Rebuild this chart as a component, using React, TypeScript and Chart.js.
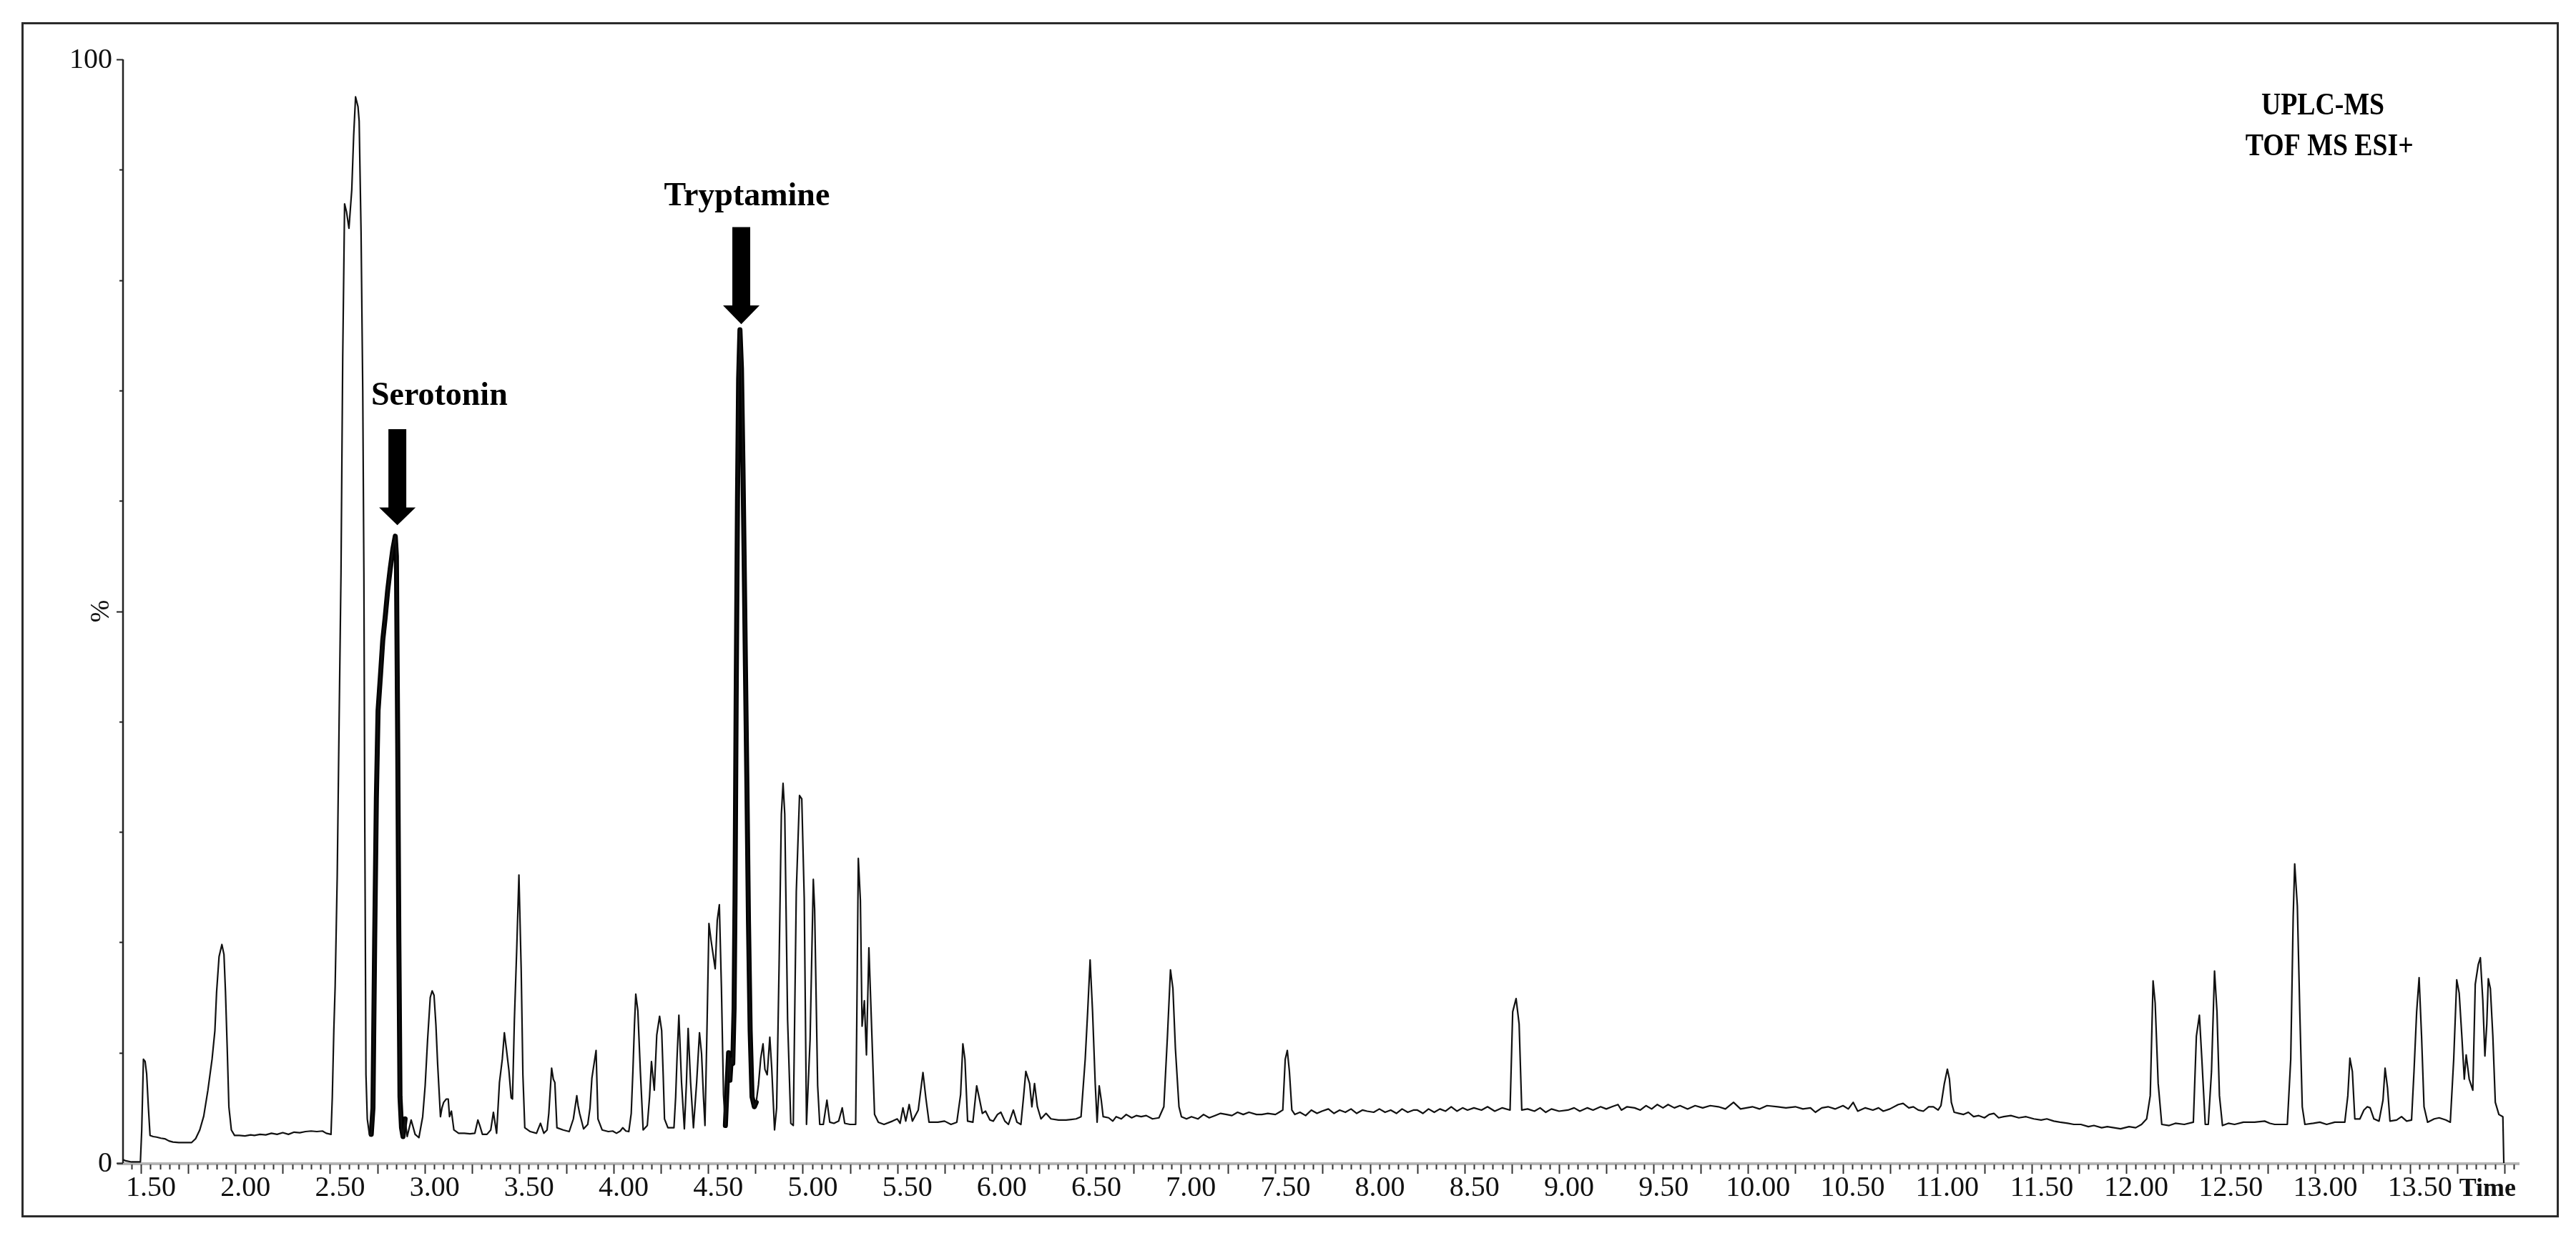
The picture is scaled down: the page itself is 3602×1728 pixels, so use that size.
import React, { useEffect, useRef } from "react";
import { Chart, registerables } from "chart.js";

Chart.register(...registerables);

type Pt = [number, number];

// ---- chromatogram (retention time [min], relative intensity [%]) ----
const solventRegion: Pt[] = [
  [1.405, 0.3], [1.42, 0.2], [1.45, 0.1], [1.497, 0.1], [1.504, 3.0], [1.513, 9.4], [1.522, 9.2],
  [1.53, 8.1], [1.539, 5.1], [1.548, 2.5], [1.565, 2.4], [1.583, 2.35], [1.605, 2.25], [1.626, 2.2],
  [1.648, 2.0], [1.669, 1.9], [1.7, 1.85], [1.735, 1.85], [1.767, 1.85], [1.789, 2.2], [1.811, 3.0],
  [1.832, 4.25], [1.854, 6.6], [1.876, 9.4], [1.891, 12.0], [1.9, 15.5], [1.913, 18.7], [1.928, 19.8],
  [1.939, 18.9], [1.947, 15.5], [1.956, 10.5], [1.965, 5.1], [1.978, 3.0], [1.995, 2.5], [2.02, 2.5],
  [2.05, 2.45], [2.08, 2.55], [2.1, 2.5], [2.13, 2.6], [2.16, 2.55], [2.19, 2.7], [2.22, 2.6],
  [2.25, 2.75], [2.28, 2.6], [2.31, 2.8], [2.34, 2.75], [2.37, 2.85], [2.4, 2.9], [2.43, 2.85],
  [2.46, 2.9], [2.48, 2.7], [2.505, 2.6],
];

const majorPeak: Pt[] = [
  [2.512, 6], [2.52, 12], [2.527, 16], [2.538, 26], [2.548, 40], [2.558, 53.5], [2.567, 72.9],
  [2.577, 86.9], [2.587, 86.2], [2.6, 84.7], [2.615, 88.2], [2.625, 93.1], [2.635, 96.6], [2.648, 95.7],
  [2.654, 94.4], [2.664, 84.4], [2.673, 70.0], [2.679, 53.5], [2.684, 30], [2.69, 8], [2.697, 4],
  [2.708, 2.6],
];

const serotoninPeak: Pt[] = [
  [2.718, 2.6], [2.727, 5], [2.736, 20], [2.745, 33], [2.754, 41], [2.766, 44], [2.779, 47.4],
  [2.792, 49.5], [2.805, 51.9], [2.818, 53.8], [2.832, 55.6], [2.845, 56.8], [2.851, 55], [2.858, 38],
  [2.864, 20], [2.87, 6], [2.878, 3.2], [2.886, 2.4], [2.897, 4.0], [2.908, 2.4],
];

const midRegion: Pt[] = [
  [2.929, 3.9], [2.95, 2.6], [2.97, 2.3], [2.99, 4.2], [3.003, 7], [3.016, 11.2], [3.03, 15.0],
  [3.04, 15.6], [3.05, 15.2], [3.06, 12.5], [3.069, 9.0], [3.084, 4.2], [3.092, 5.0], [3.101, 5.5],
  [3.115, 5.8], [3.125, 5.8], [3.132, 4.2], [3.142, 4.7], [3.155, 3.0], [3.18, 2.7], [3.21, 2.7],
  [3.24, 2.65], [3.266, 2.7], [3.282, 3.9], [3.292, 3.4], [3.306, 2.6], [3.33, 2.6], [3.35, 3.0],
  [3.364, 4.6], [3.381, 2.7], [3.396, 7.3], [3.411, 9.4], [3.422, 11.8], [3.433, 10.3], [3.446, 8.4],
  [3.458, 5.9], [3.465, 5.8], [3.475, 13.0], [3.487, 19.2], [3.499, 26.1], [3.511, 17.5], [3.52, 8],
  [3.53, 3.2], [3.559, 2.85], [3.592, 2.7], [3.613, 3.6], [3.631, 2.7], [3.648, 3.0], [3.657, 4.5],
  [3.672, 8.6], [3.681, 7.6], [3.689, 7.3], [3.7, 3.2], [3.733, 3.0], [3.765, 2.85], [3.787, 4.0],
  [3.805, 6.1], [3.812, 5.2], [3.82, 4.5], [3.841, 3.1], [3.863, 3.5], [3.875, 5], [3.885, 7.7],
  [3.907, 10.2], [3.917, 4.0], [3.939, 3.0], [3.972, 2.85], [3.995, 2.9], [4.015, 2.7], [4.035, 2.9],
  [4.048, 3.2], [4.065, 2.9], [4.08, 2.85], [4.093, 4.5], [4.102, 8.4], [4.11, 12.5], [4.117, 15.3],
  [4.128, 13.8], [4.141, 8.4], [4.156, 3.0], [4.178, 3.4], [4.19, 6], [4.2, 9.2], [4.215, 6.6],
  [4.228, 11.6], [4.243, 13.3], [4.254, 12.0], [4.262, 8], [4.269, 4.0], [4.287, 3.2], [4.319, 3.2],
  [4.328, 6], [4.335, 9.4], [4.345, 13.4], [4.359, 7.3], [4.374, 3.1], [4.385, 7.3], [4.394, 12.2],
  [4.407, 7.3], [4.422, 3.2], [4.439, 7.3], [4.454, 11.8], [4.465, 9.9], [4.475, 6], [4.483, 3.4],
  [4.493, 11.6], [4.504, 21.7], [4.515, 20.2], [4.526, 18.9], [4.537, 17.6], [4.548, 22.0],
  [4.559, 23.4], [4.57, 15.9], [4.581, 6.2], [4.591, 3.4],
];

const tryptaminePeak: Pt[] = [
  [4.6, 7.0], [4.608, 10.0], [4.615, 7.5], [4.622, 9.5], [4.63, 9.0], [4.637, 14], [4.642, 24],
  [4.648, 42], [4.655, 60], [4.661, 71], [4.668, 75.5], [4.676, 72], [4.684, 63], [4.69, 55],
  [4.697, 45], [4.705, 34], [4.713, 22], [4.722, 12], [4.732, 6], [4.744, 5.1], [4.754, 5.5],
];

const lateRegion: Pt[] = [
  [4.766, 7.1], [4.778, 9.5], [4.79, 10.8], [4.8, 8.5], [4.812, 8.0], [4.826, 11.4], [4.836, 8.6],
  [4.851, 3.0], [4.862, 5], [4.875, 17.9], [4.887, 31.6], [4.896, 34.4], [4.905, 31.6], [4.92, 13],
  [4.937, 3.6], [4.95, 3.4], [4.966, 24.6], [4.983, 33.3], [4.995, 33.0], [5.008, 24], [5.02, 3.5],
  [5.039, 11.2], [5.056, 25.7], [5.063, 23.0], [5.079, 7], [5.09, 3.5], [5.109, 3.5], [5.128, 5.7],
  [5.143, 3.7], [5.165, 3.6], [5.19, 3.8], [5.209, 5.0], [5.222, 3.6], [5.25, 3.5], [5.28, 3.5],
  [5.286, 13], [5.294, 27.6], [5.305, 23.8], [5.314, 12.4], [5.326, 14.7], [5.337, 9.8], [5.35, 19.5],
  [5.363, 13], [5.38, 4.4], [5.4, 3.7], [5.43, 3.5], [5.475, 3.8], [5.5, 4.0], [5.515, 3.6],
  [5.53, 5.0], [5.545, 3.8], [5.563, 5.3], [5.58, 3.8], [5.611, 4.8], [5.636, 8.2], [5.652, 5.8],
  [5.668, 3.7], [5.715, 3.7], [5.75, 3.8], [5.784, 3.5], [5.815, 3.7], [5.835, 6.2], [5.847, 10.8],
  [5.858, 9.4], [5.872, 3.8], [5.9, 3.7], [5.92, 7.0], [5.936, 5.7], [5.95, 4.5], [5.967, 4.7],
  [5.99, 3.9], [6.008, 3.8], [6.03, 4.4], [6.048, 4.6], [6.069, 3.8], [6.088, 3.5], [6.114, 4.8],
  [6.133, 3.7], [6.154, 3.5], [6.168, 6], [6.18, 8.3], [6.2, 7.2], [6.212, 5.1], [6.226, 7.2],
  [6.241, 5.1], [6.26, 4.0], [6.287, 4.5], [6.313, 4.0], [6.353, 3.9], [6.393, 3.9], [6.42, 3.95],
  [6.446, 4.0], [6.472, 4.2], [6.494, 9.4], [6.507, 13.7], [6.52, 18.4], [6.533, 13.7], [6.547, 7.2],
  [6.557, 3.7], [6.568, 7.0], [6.579, 5.7], [6.589, 4.2], [6.618, 4.1], [6.64, 3.8], [6.658, 4.2],
  [6.685, 4.0], [6.711, 4.4], [6.74, 4.1], [6.764, 4.3], [6.79, 4.2], [6.817, 4.3], [6.85, 4.0],
  [6.884, 4.1], [6.91, 5.1], [6.929, 11.5], [6.945, 17.5], [6.958, 15.8], [6.971, 10.4], [6.99, 5.1],
  [7.003, 4.2], [7.03, 4.0], [7.056, 4.2], [7.09, 4.0], [7.12, 4.4], [7.15, 4.1], [7.18, 4.3],
  [7.21, 4.5], [7.242, 4.4], [7.27, 4.3], [7.3, 4.6], [7.33, 4.4], [7.36, 4.6], [7.4, 4.4],
  [7.428, 4.4], [7.46, 4.5], [7.5, 4.4], [7.52, 4.6], [7.539, 4.8], [7.552, 9.4], [7.563, 10.2],
  [7.574, 8.3], [7.587, 4.8], [7.603, 4.4], [7.63, 4.6], [7.66, 4.3], [7.69, 4.8], [7.72, 4.5],
  [7.746, 4.7], [7.78, 4.9], [7.81, 4.5], [7.84, 4.8], [7.87, 4.6], [7.9, 4.9], [7.93, 4.5],
  [7.96, 4.8], [7.985, 4.7], [8.02, 4.6], [8.05, 4.9], [8.08, 4.6], [8.11, 4.8], [8.14, 4.5],
  [8.17, 4.9], [8.2, 4.6], [8.23, 4.8], [8.251, 4.8], [8.28, 4.5], [8.31, 4.9], [8.34, 4.6],
  [8.37, 4.9], [8.4, 4.7], [8.43, 5.1], [8.46, 4.7], [8.49, 5.0], [8.516, 4.8], [8.55, 5.0],
  [8.59, 4.8], [8.622, 5.1], [8.66, 4.7], [8.7, 5.0], [8.741, 4.8], [8.755, 13.7], [8.773, 14.9],
  [8.789, 12.6], [8.803, 4.8], [8.834, 4.9], [8.87, 4.7], [8.9, 5.0], [8.93, 4.6], [8.96, 4.9],
  [9.0, 4.7], [9.047, 4.8], [9.08, 5.0], [9.11, 4.7], [9.15, 5.0], [9.18, 4.8], [9.22, 5.1],
  [9.25, 4.9], [9.28, 5.1], [9.312, 5.3], [9.33, 4.8], [9.36, 5.1], [9.4, 5.0], [9.43, 4.8],
  [9.46, 5.2], [9.49, 4.9], [9.52, 5.3], [9.55, 5.0], [9.577, 5.3], [9.61, 5.0], [9.64, 5.2],
  [9.68, 4.9], [9.72, 5.2], [9.76, 5.0], [9.8, 5.2], [9.843, 5.1], [9.88, 4.9], [9.923, 5.5],
  [9.96, 4.9], [10.023, 5.1], [10.06, 4.9], [10.1, 5.2], [10.157, 5.1], [10.2, 5.0], [10.25, 5.1],
  [10.29, 4.9], [10.33, 5.0], [10.356, 4.6], [10.39, 5.0], [10.423, 5.1], [10.46, 4.9], [10.502, 5.2],
  [10.53, 4.9], [10.556, 5.5], [10.58, 4.7], [10.62, 5.0], [10.66, 4.8], [10.69, 5.0], [10.715, 4.7],
  [10.75, 4.9], [10.794, 5.3], [10.82, 5.4], [10.85, 5.0], [10.874, 5.1], [10.9, 4.8], [10.927, 4.7],
  [10.955, 5.1], [10.98, 5.1], [11.005, 4.8], [11.02, 5.2], [11.038, 7.2], [11.054, 8.5],
  [11.065, 7.6], [11.075, 5.5], [11.09, 4.6], [11.115, 4.5], [11.14, 4.4], [11.165, 4.6],
  [11.193, 4.2], [11.22, 4.3], [11.25, 4.1], [11.275, 4.4], [11.3, 4.5], [11.325, 4.1], [11.352, 4.2],
  [11.39, 4.3], [11.432, 4.1], [11.47, 4.2], [11.511, 4.0], [11.55, 3.9], [11.58, 4.0], [11.617, 3.8],
  [11.65, 3.7], [11.69, 3.6], [11.723, 3.5], [11.76, 3.5], [11.8, 3.3], [11.829, 3.4], [11.87, 3.2],
  [11.9, 3.3], [11.935, 3.2], [11.97, 3.1], [12.015, 3.3], [12.05, 3.2], [12.081, 3.5], [12.108, 4.0],
  [12.127, 6.1], [12.142, 16.5], [12.153, 14.5], [12.169, 7.2], [12.188, 3.5], [12.227, 3.4],
  [12.26, 3.6], [12.307, 3.5], [12.355, 3.7], [12.371, 11.5], [12.387, 13.4], [12.4, 9.4],
  [12.418, 3.5], [12.434, 3.5], [12.451, 8.3], [12.467, 17.4], [12.48, 13.7], [12.493, 6.1],
  [12.509, 3.4], [12.54, 3.6], [12.573, 3.5], [12.62, 3.7], [12.679, 3.7], [12.732, 3.8], [12.76, 3.6],
  [12.785, 3.5], [12.852, 3.5], [12.87, 9.4], [12.883, 22.3], [12.891, 27.1], [12.905, 23.3],
  [12.918, 13.7], [12.931, 5.1], [12.945, 3.5], [12.99, 3.6], [13.024, 3.7], [13.06, 3.5],
  [13.103, 3.7], [13.156, 3.7], [13.172, 6.1], [13.183, 9.5], [13.196, 8.3], [13.209, 4.0],
  [13.236, 4.0], [13.257, 4.8], [13.275, 5.1], [13.29, 5.0], [13.31, 4.0], [13.337, 3.8],
  [13.358, 5.7], [13.369, 8.6], [13.382, 6.8], [13.395, 3.8], [13.43, 3.9], [13.456, 4.2],
  [13.483, 3.8], [13.509, 3.9], [13.522, 8.3], [13.536, 13.7], [13.549, 16.8], [13.562, 11.5],
  [13.575, 5.1], [13.594, 3.7], [13.629, 4.0], [13.655, 4.1], [13.69, 3.9], [13.714, 3.7],
  [13.732, 9.4], [13.748, 16.6], [13.761, 15.4], [13.775, 11.5], [13.788, 7.6], [13.798, 9.8],
  [13.814, 7.6], [13.833, 6.6], [13.846, 16.2], [13.862, 18.0], [13.873, 18.6], [13.886, 14.7],
  [13.897, 9.7], [13.907, 12.6], [13.915, 16.7], [13.926, 15.8], [13.939, 11.5], [13.952, 5.5],
  [13.971, 4.4], [13.992, 4.2], [13.997, 0],
];

const trace: Pt[] = [
  ...solventRegion, ...majorPeak, ...serotoninPeak, ...midRegion, ...tryptaminePeak, ...lateRegion,
];

// ---- axes / labels ----
const X_MIN = 1.405;
const X_MAX = 14.08;
const xTickLabels = [
  "1.50", "2.00", "2.50", "3.00", "3.50", "4.00", "4.50", "5.00", "5.50", "6.00", "6.50", "7.00",
  "7.50", "8.00", "8.50", "9.00", "9.50", "10.00", "10.50", "11.00", "11.50", "12.00", "12.50",
  "13.00", "13.50",
];
const xAxisTitle = "Time";
const yTickValues = [0, 100];
const yTickLabels = ["0", "100"];
const yAxisTitle = "%";

// ---- annotations (data coordinates: minutes, %) ----
const instrumentLines = ["UPLC-MS", "TOF MS ESI+"];
const instrumentPos: Pt[] = [[13.04, 95.0], [13.075, 91.3]];
const compoundNames = ["Serotonin", "Tryptamine"];
const compoundLabelPos: Pt[] = [[3.078, 68.7], [4.705, 86.8]];
const arrowX = [2.856, 4.675];
const arrowShaftTop = [66.5, 84.8];
const arrowHeadBase = [59.4, 77.7];
const arrowTip = [57.8, 76.0];
const highlightRanges: Pt[] = [[2.715, 2.905], [4.585, 4.765]];

const FONT = '"Liberation Serif", "Times New Roman", Times, serif';

const axesPlugin = {
  id: "msAxes",
  beforeDatasetsDraw(chart: any) {
    const { ctx, scales } = chart;
    const x = scales.x;
    const y = scales.y;
    const x0 = x.getPixelForValue(X_MIN);
    const y0 = y.getPixelForValue(0);
    const y100 = y.getPixelForValue(100);
    ctx.save();

    // outer frame
    ctx.strokeStyle = "#2b2b2b";
    ctx.lineWidth = 3;
    ctx.strokeRect(31.5, 32.5, 3545, 1668);

    // x axis band
    ctx.strokeStyle = "#b4b4b4";
    ctx.lineWidth = 4;
    ctx.beginPath();
    ctx.moveTo(x0 - 8, y0 + 1);
    ctx.lineTo(x.getPixelForValue(X_MAX), y0 + 1);
    ctx.stroke();

    // x ticks every 0.05 min, long every 0.25 min
    ctx.strokeStyle = "#333";
    ctx.lineWidth = 2;
    const kStart = Math.ceil(X_MIN / 0.05 + 1e-6);
    const kEnd = Math.floor(X_MAX / 0.05 - 1e-6);
    for (let k = kStart; k <= kEnd; k++) {
      const px = Math.round(x.getPixelForValue(k * 0.05)) + 0.5;
      const len = k % 5 === 0 ? 13 : 7;
      ctx.beginPath();
      ctx.moveTo(px, y0 + 2);
      ctx.lineTo(px, y0 + 2 + len);
      ctx.stroke();
    }

    // x labels
    ctx.fillStyle = "#111";
    ctx.font = `40px ${FONT}`;
    ctx.textAlign = "center";
    ctx.textBaseline = "alphabetic";
    xTickLabels.forEach((lab) => {
      ctx.fillText(lab, x.getPixelForValue(parseFloat(lab)) + 14, y0 + 46);
    });
    ctx.font = `bold 36px ${FONT}`;
    ctx.textAlign = "left";
    const lastLab = xTickLabels[xTickLabels.length - 1];
    ctx.font = `40px ${FONT}`;
    const lastRight =
      x.getPixelForValue(parseFloat(lastLab)) + 14 + ctx.measureText(lastLab).width / 2;
    ctx.font = `bold 36px ${FONT}`;
    ctx.fillText(xAxisTitle, lastRight + 10, y0 + 46);
    ctx.textAlign = "center";

    // y axis
    ctx.strokeStyle = "#222";
    ctx.lineWidth = 2.5;
    ctx.beginPath();
    ctx.moveTo(x0, y0);
    ctx.lineTo(x0, y100);
    ctx.stroke();
    ctx.lineWidth = 2;
    for (let v = 0; v <= 100; v += 10) {
      const py = Math.round(y.getPixelForValue(v)) + 0.5;
      const len = v % 50 === 0 ? 9 : 5;
      ctx.beginPath();
      ctx.moveTo(x0 - len, py);
      ctx.lineTo(x0, py);
      ctx.stroke();
    }
    ctx.font = `40px ${FONT}`;
    ctx.textAlign = "right";
    ctx.textBaseline = "middle";
    yTickValues.forEach((v, i) => {
      ctx.fillText(yTickLabels[i], x0 - 15, y.getPixelForValue(v) + 1);
    });
    ctx.save();
    ctx.translate(x0 - 30, y.getPixelForValue(50));
    ctx.rotate(-Math.PI / 2);
    ctx.textAlign = "center";
    ctx.textBaseline = "middle";
    ctx.font = `38px ${FONT}`;
    ctx.fillText(yAxisTitle, 0, 0);
    ctx.restore();

    ctx.restore();
  },
  afterDatasetsDraw(chart: any) {
    const { ctx, scales } = chart;
    const x = scales.x;
    const y = scales.y;
    ctx.save();
    ctx.fillStyle = "#000";

    // arrows
    arrowX.forEach((ax, i) => {
      const cx = x.getPixelForValue(ax);
      const top = y.getPixelForValue(arrowShaftTop[i]);
      const base = y.getPixelForValue(arrowHeadBase[i]);
      const tip = y.getPixelForValue(arrowTip[i]);
      const sw = 12.5;
      const hw = 25.5;
      ctx.beginPath();
      ctx.moveTo(cx - sw, top);
      ctx.lineTo(cx + sw, top);
      ctx.lineTo(cx + sw, base);
      ctx.lineTo(cx + hw, base);
      ctx.lineTo(cx, tip);
      ctx.lineTo(cx - hw, base);
      ctx.lineTo(cx - sw, base);
      ctx.closePath();
      ctx.fill();
    });

    // compound labels
    ctx.font = `bold 46px ${FONT}`;
    ctx.textAlign = "center";
    ctx.textBaseline = "alphabetic";
    compoundNames.forEach((name, i) => {
      const [t, v] = compoundLabelPos[i];
      ctx.fillText(name, x.getPixelForValue(t), y.getPixelForValue(v));
    });

    // instrument annotation (slightly condensed bold serif)
    ctx.font = `bold 45px ${FONT}`;
    instrumentLines.forEach((line, i) => {
      const [t, v] = instrumentPos[i];
      ctx.save();
      ctx.translate(x.getPixelForValue(t), y.getPixelForValue(v));
      ctx.scale(0.84, 1);
      ctx.fillText(line, 0, 0);
      ctx.restore();
    });
    ctx.restore();
  },
};

export default function App() {
  const canvasRef = useRef<HTMLCanvasElement | null>(null);

  useEffect(() => {
    const canvas = canvasRef.current;
    if (!canvas) return;
    const toXY = (pts: Pt[]) => pts.map(([t, v]) => ({ x: t, y: v }));
    const highlighted = highlightRanges.map(([a, b], i) => ({
      label: compoundNames[i],
      data: toXY(trace.filter(([t]) => t >= a && t <= b)),
      borderColor: "#000",
      borderWidth: 7,
      pointRadius: 0,
      tension: 0,
      clip: false as const,
      borderJoinStyle: "round" as const,
      borderCapStyle: "round" as const,
    }));
    const chart = new Chart(canvas, {
      type: "line",
      data: {
        datasets: [
          {
            label: "TIC",
            data: toXY(trace),
            borderColor: "#111",
            borderWidth: 2.2,
            pointRadius: 0,
            tension: 0,
            clip: false as const,
            borderJoinStyle: "round" as const,
          },
          ...highlighted,
        ],
      },
      options: {
        animation: false,
        responsive: false,
        devicePixelRatio: 1,
        events: [],
        layout: { padding: { left: 172, top: 83, right: 79, bottom: 102 } },
        scales: {
          x: { type: "linear", min: X_MIN, max: X_MAX, display: false },
          y: { type: "linear", min: 0, max: 100, display: false },
        },
        plugins: { legend: { display: false }, tooltip: { enabled: false } },
      },
      plugins: [axesPlugin],
    });
    return () => chart.destroy();
  }, []);

  return (
    <div style={{ position: "fixed", left: 0, top: 0, width: 3602, height: 1728, background: "#fff" }}>
      <canvas ref={canvasRef} width={3602} height={1728} style={{ width: 3602, height: 1728 }} />
    </div>
  );
}
